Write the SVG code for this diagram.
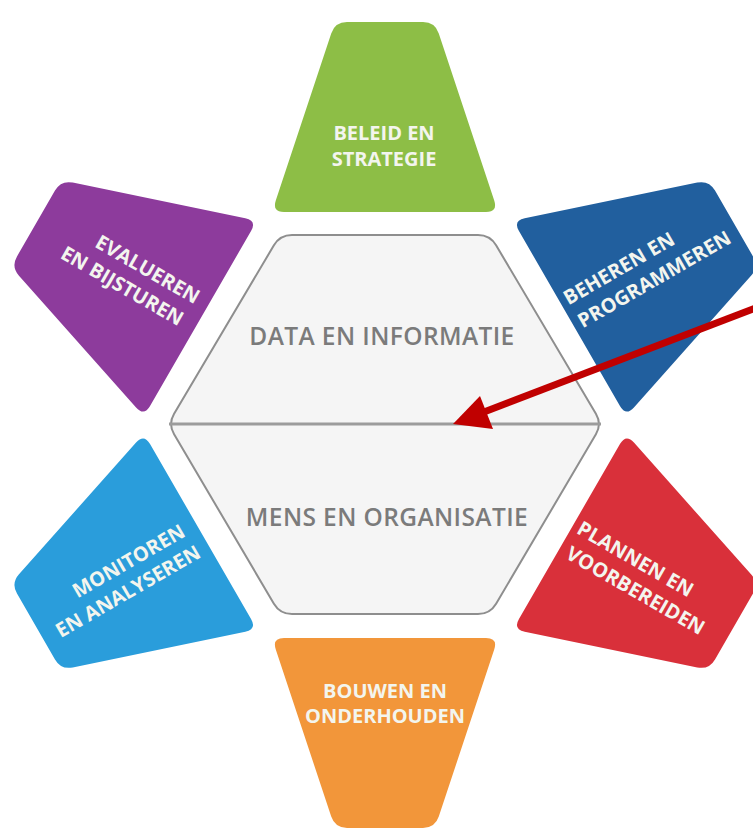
<svg xmlns="http://www.w3.org/2000/svg" width="753" height="834" viewBox="0 0 753 834">
  <defs>
    <path id="trap" d="M -38 -403 L 38 -403 Q 50 -403 53.78 -391.61 L 109.22 -224.39 Q 113 -213 101 -213 L -101 -213 Q -113 -213 -109.22 -224.39 L -53.78 -391.61 Q -50 -403 -38 -403 Z"/>
    <style>
      .lbl { font-family: "Open Sans", "Liberation Sans", sans-serif; font-weight: 700; font-size: 20px; fill: #f3f5ee; }
      .mid { font-family: "Open Sans", "Liberation Sans", sans-serif; font-weight: 600; font-size: 24.5px; fill: #7b7b7b; text-anchor: middle; letter-spacing: 0.4px; }
      .hex { fill: #f5f5f5; stroke: #8e8e8e; stroke-width: 2; }
      .divider { stroke: #9c9c9c; stroke-width: 3; }
      .arrow { stroke: #c00000; stroke-width: 7; fill: none; }
      .head { fill: #c00000; }
    </style>
  </defs>
  <rect x="0" y="0" width="753" height="834" fill="#ffffff"/>

  <g id="hexagon">
    <path class="hex" d="M 292 235 L 478 235 Q 490 235 496.1 245.3 L 595.9 413.7 Q 602 424 595.9 434.3 L 496.1 603.7 Q 490 614 478 614 L 292 614 Q 280 614 273.9 603.7 L 174.1 434.3 Q 168 424 174.1 413.7 L 273.9 245.3 Q 280 235 292 235 Z"/>
    <line class="divider" x1="169" y1="424" x2="601" y2="424"/>
    <text class="mid" x="382" y="345">DATA EN INFORMATIE</text>
    <text class="mid" x="387" y="526">MENS EN ORGANISATIE</text>
  </g>

  <g id="beleid">
    <use href="#trap" transform="translate(385,425)" fill="#8dbe46"/>
    <text class="lbl" text-anchor="middle" x="384" y="140">BELEID EN</text>
    <text class="lbl" text-anchor="middle" x="384" y="166">STRATEGIE</text>
  </g>

  <g id="beheren">
    <use href="#trap" transform="translate(385,425) rotate(60)" fill="#215f9e"/>
    <g transform="translate(568.5,305.6) rotate(-30)">
      <text class="lbl" x="0" y="0" fill="#dce9f6">BEHEREN EN</text>
      <text class="lbl" x="1" y="27">PROGRAMMEREN</text>
    </g>
  </g>

  <g id="plannen">
    <use href="#trap" transform="translate(385,425) rotate(120)" fill="#d9303a"/>
    <g transform="translate(575.5,532.6) rotate(30)">
      <text class="lbl" x="0" y="0">PLANNEN EN</text>
      <text class="lbl" x="3" y="27">VOORBEREIDEN</text>
    </g>
  </g>

  <g id="bouwen">
    <use href="#trap" transform="translate(385,425) rotate(180)" fill="#f2963a"/>
    <text class="lbl" text-anchor="middle" x="385" y="698">BOUWEN EN</text>
    <text class="lbl" text-anchor="middle" x="385" y="723">ONDERHOUDEN</text>
  </g>

  <g id="monitoren">
    <use href="#trap" transform="translate(385,425) rotate(-120)" fill="#2a9ddb"/>
    <g transform="translate(186.5,535.6) rotate(-30)">
      <text class="lbl" text-anchor="end" x="0" y="0">MONITOREN</text>
      <text class="lbl" text-anchor="end" x="3" y="26">EN ANALYSEREN</text>
    </g>
  </g>

  <g id="evalueren">
    <use href="#trap" transform="translate(385,425) rotate(-60)" fill="#8d3b9c"/>
    <g transform="translate(194.5,304.5) rotate(30)">
      <text class="lbl" text-anchor="end" x="0" y="0">EVALUEREN</text>
      <text class="lbl" text-anchor="end" x="-3" y="27">EN BIJSTUREN</text>
    </g>
  </g>

  <g id="connectors">
    <line class="arrow" x1="760" y1="306.3" x2="484" y2="412"/>
    <polygon class="head" points="453,424 480,396 493,429"/>
  </g>
</svg>
